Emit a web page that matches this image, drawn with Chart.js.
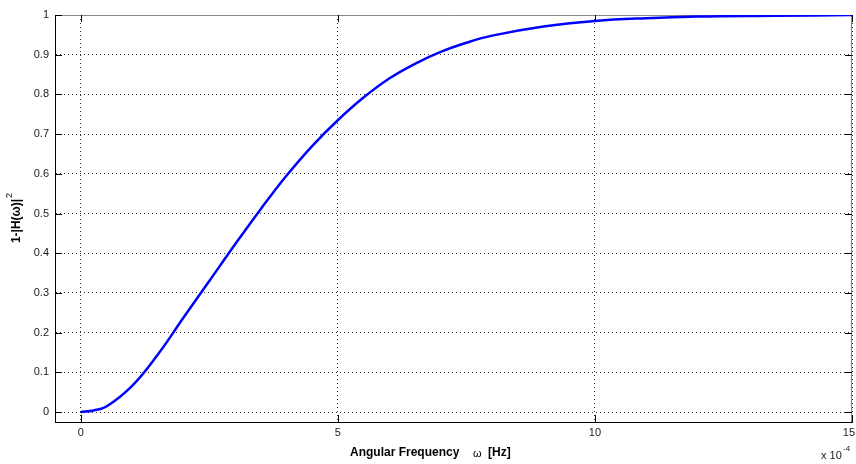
<!DOCTYPE html>
<html>
<head>
<meta charset="utf-8">
<script src="https://cdn.jsdelivr.net/npm/chart.js@4/dist/chart.umd.min.js"></script>
<style>
  body { margin: 0; background: #fff; }
  canvas { display: block; }
</style>
</head>
<body>
<canvas id="response-chart" width="856" height="464"></canvas>
<script>
// values (omega in units of 1e-4)
const omega = [0, 0.25, 0.5, 1.0, 1.5, 2.0, 2.5, 3.0, 3.5, 4.0, 4.5, 5.0, 5.5, 6.0, 6.5, 7.0, 7.5, 8.0, 9.0, 10, 11, 12, 13.5, 15];
const response = [0, 0.004, 0.014, 0.066, 0.145, 0.238, 0.330, 0.422, 0.511, 0.595, 0.670, 0.735, 0.792, 0.840, 0.877, 0.907, 0.930, 0.948, 0.971, 0.985, 0.992, 0.996, 0.998, 1.0];
const xTicks = [0, 5, 10, 15];
const yTicks = [0, 0.1, 0.2, 0.3, 0.4, 0.5, 0.6, 0.7, 0.8, 0.9, 1];

const FONT = "'Liberation Sans', Arial, sans-serif";

// matlab style box: inward ticks and grey top/right edges
const framePlugin = {
    id: "frame",
    beforeDatasetsDraw(chart) {
        const { ctx, chartArea: a, scales } = chart;
        ctx.save();
        ctx.setLineDash([]);
        ctx.strokeStyle = "#888";
        ctx.lineWidth = 1;
        ctx.beginPath();
        ctx.moveTo(a.left, a.top + 0.5);
        ctx.lineTo(a.right - 0.5, a.top + 0.5);
        ctx.lineTo(a.right - 0.5, a.bottom);
        ctx.stroke();

        ctx.strokeStyle = "#000";
        ctx.beginPath();
        xTicks.forEach(v => {
            const x = Math.round(scales.x.getPixelForValue(v)) + 0.5;
            ctx.moveTo(x, a.bottom); ctx.lineTo(x, a.bottom - 7);
            ctx.moveTo(x, a.top); ctx.lineTo(x, a.top + 7);
        });
        yTicks.forEach(v => {
            const y = Math.round(scales.y.getPixelForValue(v)) + 0.5;
            ctx.moveTo(a.left, y); ctx.lineTo(a.left + 7, y);
            ctx.moveTo(a.right, y); ctx.lineTo(a.right - 7, y);
        });
        ctx.stroke();
        ctx.restore();
    },
    afterDraw(chart) {
        const { ctx, chartArea: a } = chart;
        ctx.save();
        ctx.fillStyle = "#000";
        ctx.textBaseline = "middle";

        // y axis label
        ctx.translate(17, (a.top + a.bottom) / 2);
        ctx.rotate(-Math.PI / 2);
        const yMain = "1-|H(ω)|";
        ctx.font = "bold 12px " + FONT;
        const w1 = ctx.measureText(yMain).width;
        ctx.font = "9px " + FONT;
        const w2 = ctx.measureText("2").width;
        const sx = -(w1 + w2) / 2;
        ctx.font = "bold 12px " + FONT;
        ctx.textAlign = "left";
        ctx.fillText(yMain, sx, 0);
        ctx.font = "9px " + FONT;
        ctx.fillText("2", sx + w1 + 1, -7);
        ctx.setTransform(1, 0, 0, 1, 0, 0);

        // x axis label
        ctx.font = "bold 12px " + FONT;
        ctx.textAlign = "left";
        ctx.fillText("Angular Frequency", 350, 453);
        ctx.font = "11px " + FONT;
        ctx.fillText("ω", 473, 454);
        ctx.font = "bold 12px " + FONT;
        ctx.fillText("[Hz]", 488, 453);

        // exponent
        ctx.font = "11px " + FONT;
        ctx.fillStyle = "#222";
        ctx.fillText("x 10", 821, 456);
        ctx.font = "8px " + FONT;
        ctx.fillText("-4", 843, 449);
        ctx.restore();
    },
};

const ctx = document.getElementById("response-chart").getContext("2d");
new Chart(ctx, {
    type: "line",
    data: {
        datasets: [
            {
                data: omega.map((w, i) => ({ x: w, y: response[i] })),
                borderColor: "#0000ff",
                borderWidth: 2.5,
                pointRadius: 0,
                fill: false,
                tension: 0.4,
            },
        ],
    },
    options: {
        responsive: false,
        animation: false,
        layout: { padding: { left: 0, top: 15, right: 4, bottom: 0 } },
        plugins: {
            legend: { display: false },
            tooltip: { enabled: false },
        },
        scales: {
            x: {
                type: "linear",
                min: -0.5,
                max: 15,
                afterBuildTicks: s => { s.ticks = xTicks.map(v => ({ value: v })); },
                afterFit: s => { s.height = 42; s.paddingLeft = 0; s.paddingRight = 0; },
                grid: { color: "#333", lineWidth: 1, drawTicks: false },
                border: { display: true, color: "#000", width: 1, dash: [1, 3] },
                ticks: {
                    padding: 4,
                    maxRotation: 0,
                    color: "#1a1a1a",
                    font: { family: FONT, size: 11 },
                    // last label sits at the canvas edge, nudge it left
                    callback: v => (v === 15 ? "15  " : String(v)),
                },
            },
            y: {
                type: "linear",
                min: -0.025,
                max: 1,
                afterBuildTicks: s => { s.ticks = yTicks.map(v => ({ value: v })); },
                afterFit: s => { s.width = 55; },
                grid: { color: "#333", lineWidth: 1, drawTicks: false },
                border: { display: true, color: "#000", width: 1, dash: [1, 3] },
                ticks: {
                    padding: 6,
                    color: "#1a1a1a",
                    font: { family: FONT, size: 11 },
                    callback: v => String(+v.toFixed(1)),
                },
            },
        },
    },
    plugins: [framePlugin],
});
</script>
</body>
</html>
